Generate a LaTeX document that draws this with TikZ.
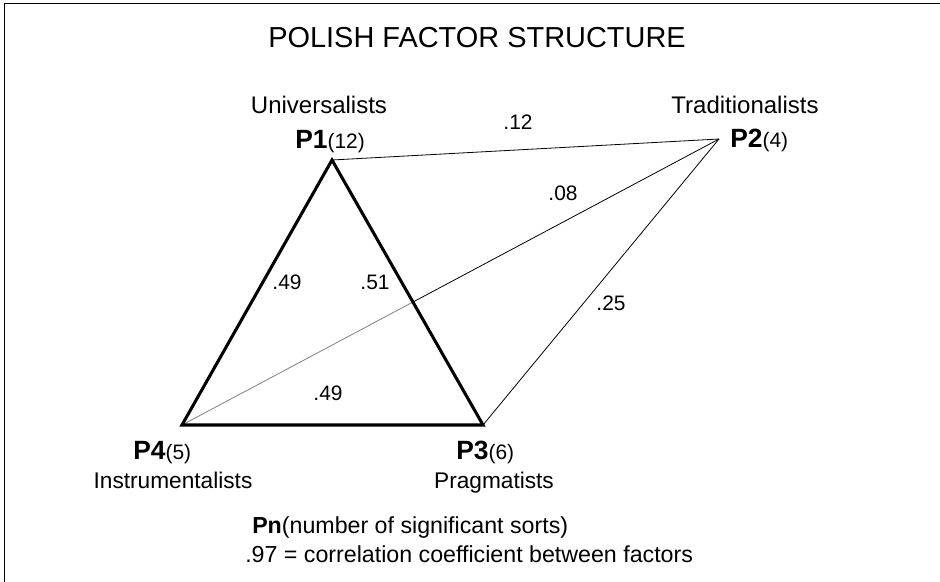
\documentclass[tikz,border=0pt]{standalone}
\usepackage{fontspec}
\setmainfont{Liberation Sans}
\usetikzlibrary{positioning}
\newcommand{\pfont}[1]{\fontsize{#1}{1.2\dimexpr#1pt\relax}\selectfont}

\begin{document}
\begin{tikzpicture}[x=0.75pt,y=-0.75pt,
        thickedge/.style={line width=2.3pt, line join=miter},
        thinedge/.style={line width=0.6pt},
        grouplabel/.style={inner sep=0pt, font=\pfont{18}},
        lowlabel/.style={inner sep=0pt, font=\pfont{17}},
        keylabel/.style={inner sep=0pt, anchor=base west, font=\pfont{17.4}},
        factorlabel/.style={inner sep=0pt, anchor=base west, font=\pfont{19.8}\bfseries},
        corrlabel/.style={inner sep=0pt, font=\pfont{15.7}}]
        \useasboundingbox (0,0) rectangle (940,582);
        \draw[line width=1pt] (4.5,582) -- (4.5,3.5) -- (940,3.5);
        \node[anchor=base, inner sep=0pt, font=\pfont{21.7}] (title) at (477,47) {POLISH FACTOR STRUCTURE};
        % factor positions
        \coordinate (P1) at (332,160);
        \coordinate (P2) at (719,139);
        \coordinate (P3) at (483,425);
        \coordinate (P4) at (182,425);
        \coordinate (X) at (intersection of P4--P2 and P1--P3);
        % weak correlations
        \draw[thinedge] (P1) -- (P2);
        \draw[thinedge] (P3) -- (P2);
        \draw[thinedge, gray] (P4) -- (X);
        \draw[thinedge] (X) -- (P2);
        % strong correlations
        \draw[thickedge] (P1) -- (P3) -- (P4) -- cycle;
        % factor labels
        \node[factorlabel] (p1lab) at (295,148) {P1{\mdseries\pfont{15.7}(12)}};
        \node[factorlabel] (p2lab) at (730,147) {P2{\mdseries\pfont{15.7}(4)}};
        \node[factorlabel] (p3lab) at (456,459) {P3{\mdseries\pfont{15.7}(6)}};
        \node[factorlabel] (p4lab) at (133,459) {P4{\mdseries\pfont{15.7}(5)}};
        \node[grouplabel, anchor=base] (univ) at (319,113) {Universalists};
        \node[grouplabel, anchor=base] (trad) at (745,113) {Traditionalists};
        \node[lowlabel, anchor=base] (instr) at (173,488) {Instrumentalists};
        \node[lowlabel, anchor=base] (prag) at (494,488) {Pragmatists};
        % correlation values
        \node[corrlabel] (c12) at (518,122) {.12};
        \node[corrlabel] (c14) at (563,193) {.08};
        \node[corrlabel] (c41) at (287,282) {.49};
        \node[corrlabel] (c13) at (375,282) {.51};
        \node[corrlabel] (c23) at (611,303) {.25};
        \node[corrlabel] (c34) at (328,393) {.49};
        % key
        \node[keylabel] (key1) at (252,533) {\textbf{Pn}(number of significant sorts)};
        \node[keylabel] (key2) at (245,562) {.97 = correlation coefficient between factors};
    \end{tikzpicture}
\end{document}
